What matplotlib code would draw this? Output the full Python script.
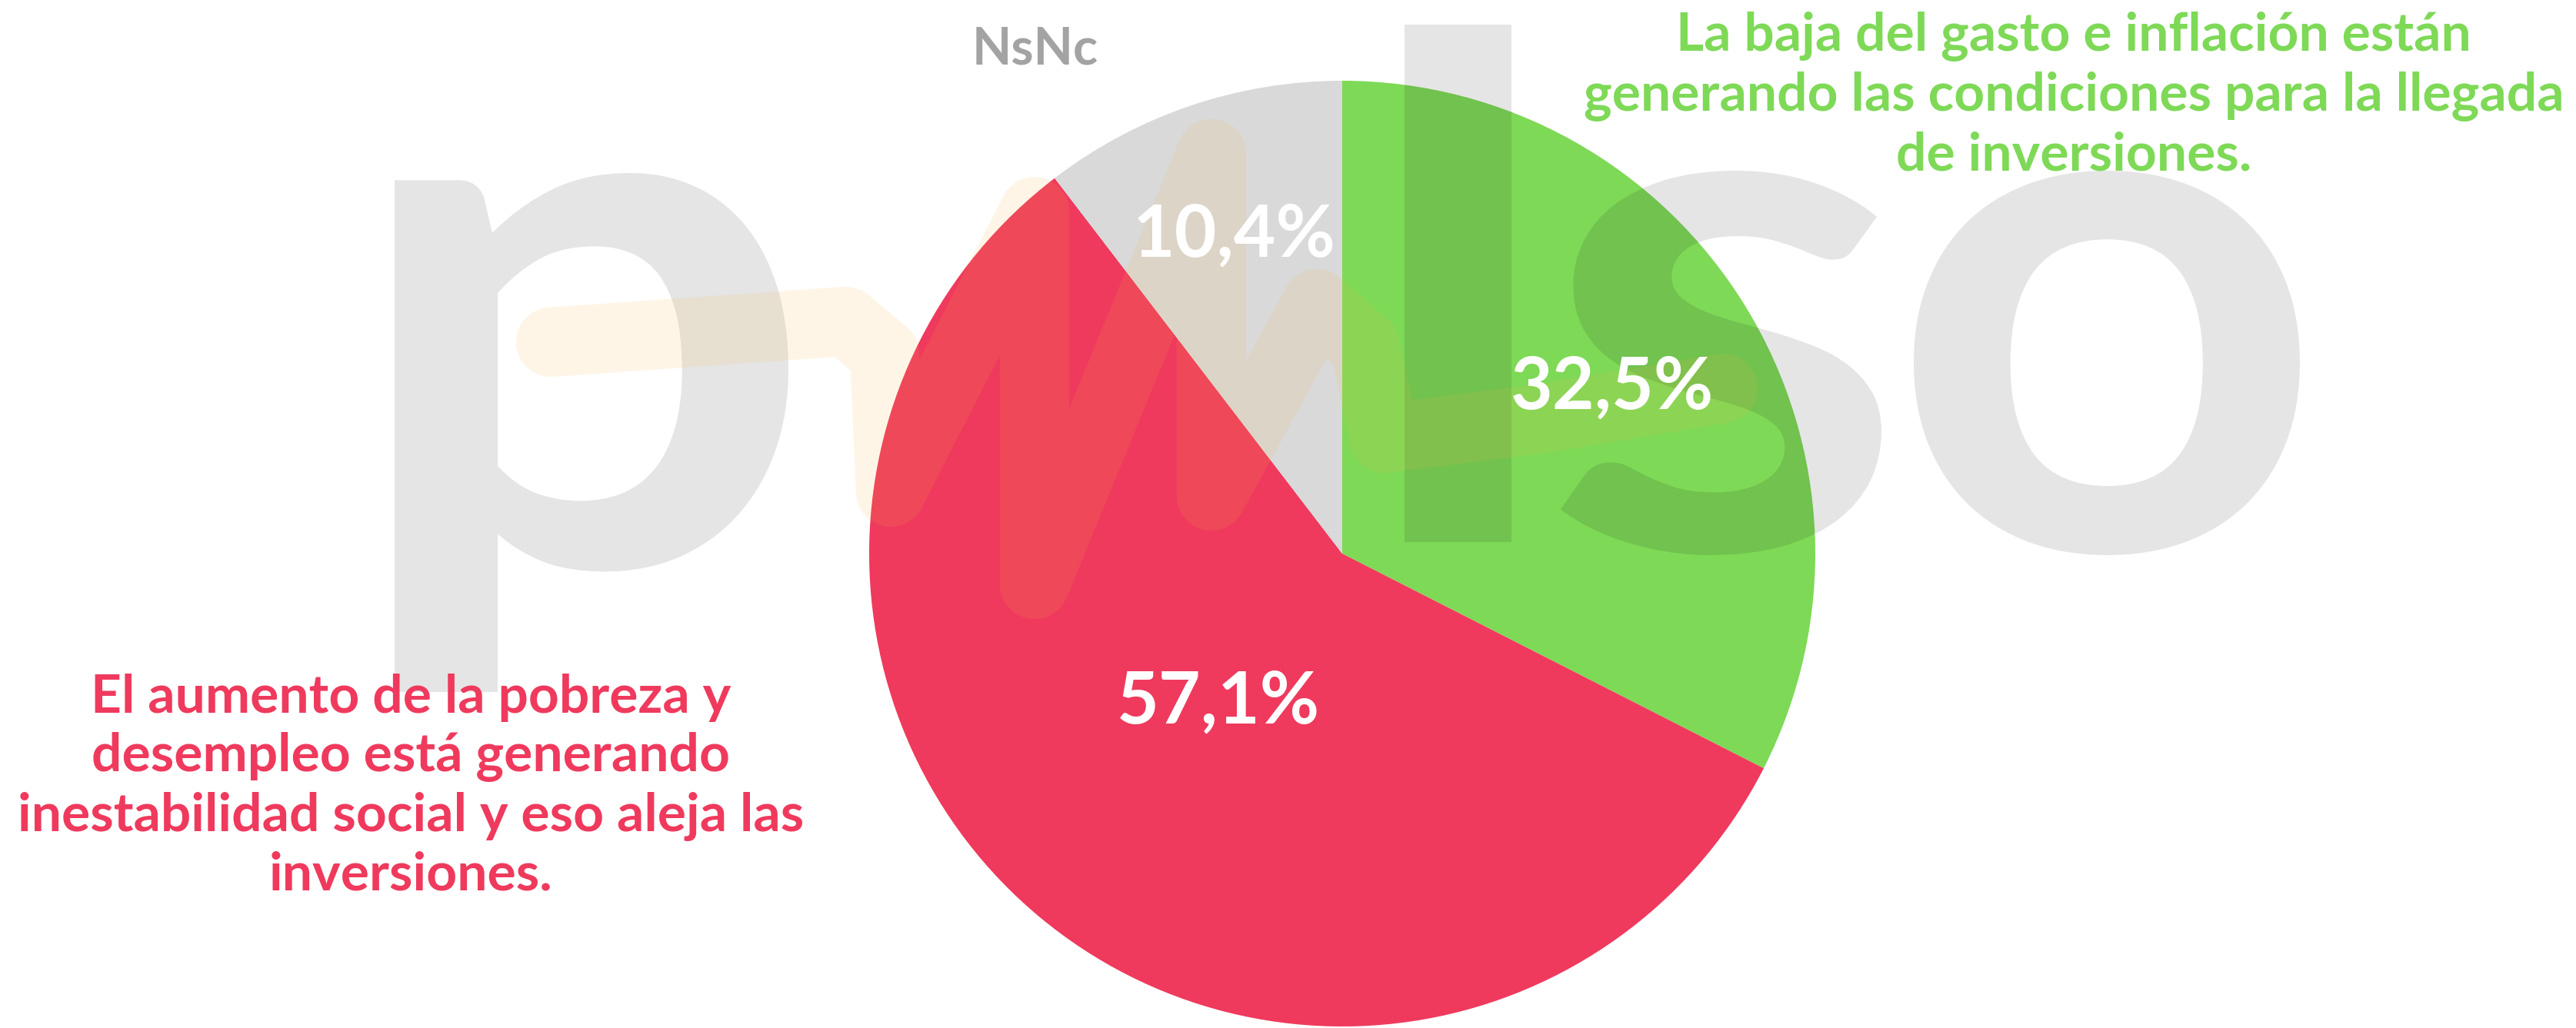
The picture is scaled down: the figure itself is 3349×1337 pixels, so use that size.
import matplotlib
matplotlib.use("Agg")
import matplotlib.pyplot as plt
from matplotlib.textpath import TextPath
from matplotlib.patches import PathPatch
from matplotlib.font_manager import FontProperties
from matplotlib.transforms import Affine2D
import numpy as np

# Data
labels = ["La baja del gasto e inflación están\ngenerando las condiciones para la llegada\nde inversiones.",
          "El aumento de la pobreza y\ndesempleo está generando\ninestabilidad social y eso aleja las\ninversiones.",
          "NsNc"]
values = [32.5, 57.1, 10.4]
colors = ["#7ED957", "#EF3A5D", "#D9D9D9"]
pct_text = ["32,5%", "57,1%", "10,4%"]

W, H = 3349, 1337
FONT = "Lato"

fig = plt.figure(figsize=(W / 100, H / 100), dpi=100)
ax = fig.add_axes([0, 0, 1, 1])

# pie in pixel-like units, y measured upward
cx, cy, r = 1745, H - 720, 615
wedges, _ = ax.pie(values, colors=colors, startangle=90, counterclock=False,
                   center=(cx, cy), radius=r, wedgeprops=dict(linewidth=0))
ax.set_xlim(0, W)
ax.set_ylim(0, H)
ax.set_aspect("equal")
ax.axis("off")


def letter(ch, x0, x1, ytop, ybot):
    """Watermark glyph scaled into a pixel box (y measured from top)."""
    fp = FontProperties(family=FONT, weight="bold")
    tp = TextPath((0, 0), ch, size=100, prop=fp)
    bb = tp.get_extents()
    sx = (x1 - x0) / bb.width
    sy = (ybot - ytop) / bb.height
    tr = Affine2D().translate(-bb.x0, -bb.y0).scale(sx, sy).translate(x0, H - ybot)
    ax.add_patch(PathPatch(tr.transform_path(tp), facecolor="black", alpha=0.1,
                           linewidth=0, zorder=2))


letter("p", 513, 1025, 225, 900)
letter("l", 1826, 1965, 32, 705)
letter("s", 2029, 2446, 222, 722)
letter("o", 2488, 2990, 222, 722)

# percentage labels
dist = [0.67, 0.41, 0.71]
for w, t, d in zip(wedges, pct_text, dist):
    ang = np.deg2rad((w.theta1 + w.theta2) / 2)
    ax.text(cx + d * r * np.cos(ang), cy + d * r * np.sin(ang), t,
            ha="center", va="center", color="white", fontsize=68,
            family=FONT, weight="bold", zorder=4)

# squiggle of the watermark
sq_x = [716, 1100, 1150, 1158, 1345, 1345, 1575, 1575, 1712, 1775, 1800, 2000, 2240]
sq_y = [445, 418, 460, 640, 275, 760, 200, 645, 395, 450, 570, 545, 505]
ax.plot(sq_x, [H - v for v in sq_y], color="#F7B43F", alpha=0.12, linewidth=65,
        solid_capstyle="round", solid_joinstyle="round", zorder=3)

# category texts
ax.text(1346, H - 64, labels[2], ha="center", va="center", color="#A3A3A3",
        fontsize=48, family=FONT, weight="bold", zorder=5)
ax.text(2696, H - 124, labels[0], ha="center", va="center", color=colors[0],
        fontsize=50, family=FONT, weight="bold", linespacing=1.25, zorder=5)
ax.text(534, H - 1023, labels[1], ha="center", va="center", color=colors[1],
        fontsize=50, family=FONT, weight="bold", linespacing=1.25, zorder=5)

fig.savefig("out.png", dpi=100, facecolor="white")
